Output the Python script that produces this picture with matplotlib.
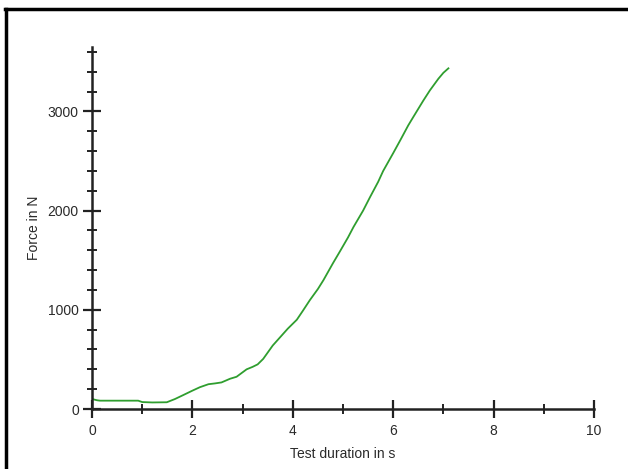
import matplotlib
matplotlib.use("Agg")
import matplotlib.pyplot as plt
from matplotlib.lines import Line2D
from matplotlib.ticker import MultipleLocator

time_s = [0.0, 0.03, 0.1, 0.16, 0.5, 0.92, 1.0, 1.2, 1.49, 1.65, 1.82, 2.0, 2.15,
          2.32, 2.45, 2.58, 2.75, 2.88, 3.0, 3.08, 3.2, 3.3, 3.41, 3.6, 3.75,
          3.9, 4.08, 4.2, 4.34, 4.5, 4.61, 4.8, 4.94, 5.1, 5.21, 5.4, 5.54,
          5.7, 5.8, 6.0, 6.14, 6.3, 6.4, 6.6, 6.73, 6.9, 7.0, 7.1]
force_n = [100, 97, 88, 84, 84, 84, 70, 66, 68, 100, 141, 185, 220,
           250, 258, 268, 305, 325, 370, 400, 425, 450, 505, 640, 725,
           810, 900, 990, 1098, 1210, 1299, 1470, 1590, 1730, 1836, 2000, 2138,
           2290, 2400, 2580, 2709, 2860, 2944, 3110, 3212, 3330, 3390, 3435]

x_ticks = [0, 2, 4, 6, 8, 10]
y_ticks = [0, 1000, 2000, 3000]

plt.rcParams['font.family'] = ['Liberation Sans', 'DejaVu Sans']

fig = plt.figure(figsize=(6.28, 4.69), dpi=100)
ax = fig.add_axes([92/628, 1-409/469, (594-92)/628, (409-47)/469])

ax.plot(time_s, force_n, color='#2f9e2f', lw=1.3)

ax.set_xlim(0, 10)
ax.set_ylim(0, 3650)
ax.set_xticks(x_ticks)
ax.set_yticks(y_ticks)
ax.xaxis.set_minor_locator(MultipleLocator(1))
ax.yaxis.set_minor_locator(MultipleLocator(200))

for s in ['top', 'right']:
    ax.spines[s].set_visible(False)
for s in ['left', 'bottom']:
    ax.spines[s].set_linewidth(1.8)
    ax.spines[s].set_color('#222222')

ax.tick_params(which='major', direction='inout', length=13, width=1.6, color='#222222',
               labelsize=10, labelcolor='#2a2a2a')
ax.tick_params(which='minor', direction='inout', length=7, width=1.4, color='#222222')
ax.tick_params(axis='x', which='major', pad=4)
ax.tick_params(axis='y', which='major', pad=3)

ax.set_xlabel('Test duration in s', fontsize=10, color='#2a2a2a', labelpad=7)
ax.set_ylabel('Force in N', fontsize=10, color='#2a2a2a', labelpad=5)

# partial border (cropped frame)
fig.add_artist(Line2D([6/628, 6/628], [0, 1-9/469], transform=fig.transFigure,
                      color='black', lw=2.5))
fig.add_artist(Line2D([5/628, 1], [1-9/469, 1-9/469], transform=fig.transFigure,
                      color='black', lw=2.5))

fig.savefig('out.png', dpi=100)
